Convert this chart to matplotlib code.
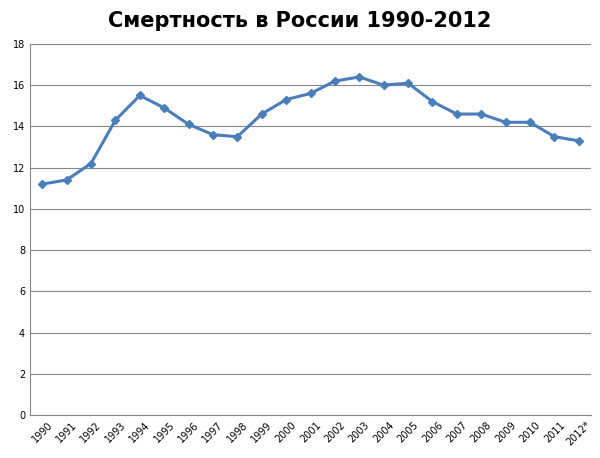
import matplotlib
matplotlib.use("Agg")
import matplotlib.pyplot as plt
import numpy as np

years = ["1990", "1991", "1992", "1993", "1994", "1995", "1996", "1997", "1998",
         "1999", "2000", "2001", "2002", "2003", "2004", "2005", "2006", "2007",
         "2008", "2009", "2010", "2011", "2012*"]
rate = [11.2, 11.4, 12.2, 14.3, 15.5, 14.9, 14.1, 13.6, 13.5, 14.6, 15.3, 15.6,
        16.2, 16.4, 16.0, 16.1, 15.2, 14.6, 14.6, 14.2, 14.2, 13.5, 13.3]

fig = plt.figure(figsize=(6, 4.58), dpi=100)
ax = fig.add_axes([0.05, 0.094, 0.935, 0.81])
x = np.arange(len(years))
ax.plot(x, rate, color="#4a7ebb", lw=2.2, marker="D", ms=4)
ax.set_xlim(-0.5, len(years) - 0.5)
ax.set_ylim(0, 18)
ax.set_yticks(range(0, 19, 2))
ax.set_xticks(x)
ax.set_xticklabels(years, rotation=45, fontsize=7)
ax.tick_params(axis="y", labelsize=7, length=0)
ax.tick_params(axis="x", length=0)
ax.grid(axis="y", color="#888888", lw=0.8)
ax.set_axisbelow(True)
for s in ["top", "right"]:
    ax.spines[s].set_visible(False)
for s in ["left", "bottom"]:
    ax.spines[s].set_color("#888888")
fig.suptitle("Смертность в России 1990-2012", fontsize=15, fontweight="bold", y=0.975)
fig.savefig("out.png")
